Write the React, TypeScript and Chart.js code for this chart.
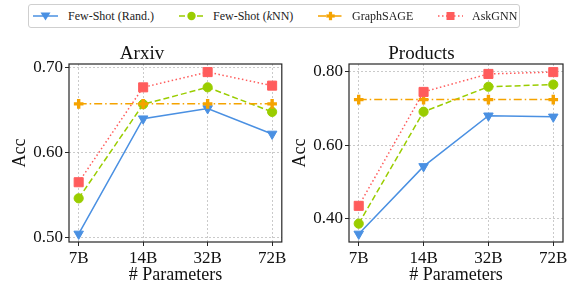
import React, { useEffect, useRef } from "react";
import { Chart, registerables } from "chart.js";

Chart.register(...registerables);

// ---------- data ----------
const categories = ["7B", "14B", "32B", "72B"];
const seriesNames = ["Few-Shot (Rand.)", "Few-Shot (kNN)", "GraphSAGE", "AskGNN"];

const arxivRand = [0.504, 0.64, 0.652, 0.622];
const arxivKnn = [0.546, 0.657, 0.677, 0.648];
const arxivSage = [0.6575, 0.6575, 0.6575, 0.6575];
const arxivAsk = [0.565, 0.677, 0.695, 0.679];

const productsRand = [0.358, 0.542, 0.68, 0.677];
const productsKnn = [0.386, 0.691, 0.759, 0.765];
const productsSage = [0.724, 0.724, 0.724, 0.724];
const productsAsk = [0.4345, 0.745, 0.794, 0.799];

const arxivTicks = [0.5, 0.6, 0.7];
const productsTicks = [0.4, 0.6, 0.8];

// ---------- styles ----------
const colors = ["#4a90e2", "#9acd00", "#f5a300", "#ff5c5c"];
const dashes: number[][] = [[], [6, 3], [8, 3, 1.5, 3], [1.5, 2.5]];
const pointStyles = ["triangle", "circle", "cross", "rect"];
const pointRadii = [5.5, 4.6, 4.8, 6.4];
const pointRotations = [180, 0, 0, 0];
const pointBorderWidths = [1, 1, 3.4, 1];
const FONT = "'Liberation Serif', 'Times New Roman', serif";

const framePlugin = {
  id: "frame",
  afterDraw(chart: any) {
    const { ctx, chartArea } = chart;
    ctx.save();
    ctx.strokeStyle = "#262626";
    ctx.lineWidth = 1.2;
    ctx.strokeRect(chartArea.left, chartArea.top, chartArea.right - chartArea.left, chartArea.bottom - chartArea.top);
    ctx.restore();
  },
};

const gridOpts = {
  color: "#bdbdbd",
  lineWidth: 0.8,
  tickColor: "#262626",
  tickLength: 4,
  tickBorderDash: [],
  tickWidth: 1,
};

function buildConfig(title: string, series: number[][], ticks: number[], padRight: number, yWidth: number, xHeight: number) {
  const all = series.flat();
  const lo = Math.min(...all);
  const hi = Math.max(...all);
  const m = (hi - lo) * 0.05;
  const n = categories.length - 1;
  const datasets = series.map((vals, i) => ({
    label: seriesNames[i],
    data: vals.map((v, j) => ({ x: j, y: v })),
    borderColor: colors[i],
    backgroundColor: colors[i],
    borderWidth: 1.5,
    borderDash: dashes[i],
    pointStyle: pointStyles[i],
    pointRadius: pointRadii[i],
    pointRotation: pointRotations[i],
    pointBorderWidth: pointBorderWidths[i],
    pointBorderColor: colors[i],
    pointBackgroundColor: colors[i],
    tension: 0,
    order: series.length - i,
    clip: false as any,
  }));
  return {
    type: "line" as const,
    data: { datasets },
    plugins: [framePlugin],
    options: {
      animation: false as const,
      responsive: false,
      maintainAspectRatio: false,
      layout: { padding: { left: 0, right: padRight, top: 17, bottom: 0 } },
      plugins: {
        legend: { display: false },
        tooltip: { enabled: false },
        title: {
          display: true,
          text: title,
          color: "#111",
          font: { family: FONT, size: 19, weight: "normal" as const, lineHeight: 1 },
          padding: { top: 0, bottom: 0 },
        },
      },
      scales: {
        x: {
          type: "linear" as const,
          min: -0.05 * n,
          max: n + 0.05 * n,
          afterBuildTicks: (s: any) => {
            s.ticks = categories.map((_, i) => ({ value: i }));
          },
          afterFit: (s: any) => {
            s.height = xHeight;
          },
          ticks: {
            autoSkip: false,
            maxRotation: 0,
            padding: 2,
            color: "#111",
            font: { family: FONT, size: 17 },
            callback: (v: any) => categories[v as number] ?? "",
          },
          grid: gridOpts,
          border: { display: false, dash: [2, 2] },
          title: {
            display: true,
            text: "# Parameters",
            color: "#111",
            font: { family: FONT, size: 18 },
            padding: { top: 0, bottom: 0 },
          },
        },
        y: {
          type: "linear" as const,
          min: lo - m,
          max: hi + m,
          afterBuildTicks: (s: any) => {
            s.ticks = ticks.map((t) => ({ value: t }));
          },
          afterFit: (s: any) => {
            s.width = yWidth;
          },
          ticks: {
            padding: 2,
            color: "#111",
            font: { family: FONT, size: 17 },
            callback: (v: any) => Number(v).toFixed(2),
          },
          grid: gridOpts,
          border: { display: false, dash: [2, 2] },
          title: {
            display: true,
            text: "Acc",
            color: "#111",
            font: { family: FONT, size: 18 },
            padding: { top: 9, bottom: 0 },
          },
        },
      },
    },
  };
}

function ChartPanel(props: { title: string; series: number[][]; ticks: number[]; left: number; width: number; padRight: number }) {
  const ref = useRef<HTMLCanvasElement | null>(null);
  useEffect(() => {
    if (!ref.current) return;
    const chart = new Chart(ref.current, buildConfig(props.title, props.series, props.ticks, props.padRight, 69, 44) as any);
    return () => chart.destroy();
  }, []);
  return (
    <canvas
      ref={ref}
      width={props.width}
      height={258}
      style={{ position: "absolute", left: props.left, top: 28, width: props.width, height: 258 }}
    />
  );
}

function LegendHandle({ i }: { i: number }) {
  const c = colors[i];
  const dash = dashes[i].length ? dashes[i].join(",") : undefined;
  let marker: any = null;
  if (i === 0) marker = <polygon points="7.5,2.5 17.5,2.5 12.5,10.5" fill={c} />;
  if (i === 1) marker = <circle cx={12.5} cy={6} r={4.2} fill={c} />;
  if (i === 2)
    marker = (
      <g fill={c}>
        <rect x={8.3} y={4.4} width={8.4} height={3.2} />
        <rect x={10.9} y={1.8} width={3.2} height={8.4} />
      </g>
    );
  if (i === 3) marker = <rect x={8.5} y={2} width={8} height={8} fill={c} />;
  return (
    <svg width={25} height={12} style={{ position: "absolute", top: 0 }}>
      <line x1={0} y1={6} x2={25} y2={6} stroke={c} strokeWidth={1.5} strokeDasharray={dash} />
      {marker}
    </svg>
  );
}

const legendHandleX = [4, 150, 289, 409];
const legendTextX = [39, 184, 323, 443];

function Legend() {
  return (
    <div
      style={{
        position: "absolute",
        left: 28,
        top: 4,
        width: 490,
        height: 22,
        border: "1px solid #cfcfcf",
        borderRadius: 3,
        background: "#fff",
        fontFamily: FONT,
        fontSize: 12,
        color: "#222",
      }}
    >
      {seriesNames.map((name, i) => (
        <React.Fragment key={name}>
          <div style={{ position: "absolute", left: legendHandleX[i], top: 5, width: 25, height: 12 }}>
            <LegendHandle i={i} />
          </div>
          <div style={{ position: "absolute", left: legendTextX[i], top: 3, whiteSpace: "nowrap", lineHeight: "16px" }}>
            {i === 1 ? (
              <>
                Few-Shot (<i>k</i>NN)
              </>
            ) : (
              name
            )}
          </div>
        </React.Fragment>
      ))}
    </div>
  );
}

export default function App() {
  return (
    <div style={{ position: "fixed", left: 0, top: 0, width: 572, height: 286, background: "#fff", overflow: "hidden" }}>
      <ChartPanel title="Arxiv" series={[arxivRand, arxivKnn, arxivSage, arxivAsk]} ticks={arxivTicks} left={0} width={290} padRight={6} />
      <ChartPanel
        title="Products"
        series={[productsRand, productsKnn, productsSage, productsAsk]}
        ticks={productsTicks}
        left={280}
        width={292}
        padRight={9}
      />
      <Legend />
    </div>
  );
}
